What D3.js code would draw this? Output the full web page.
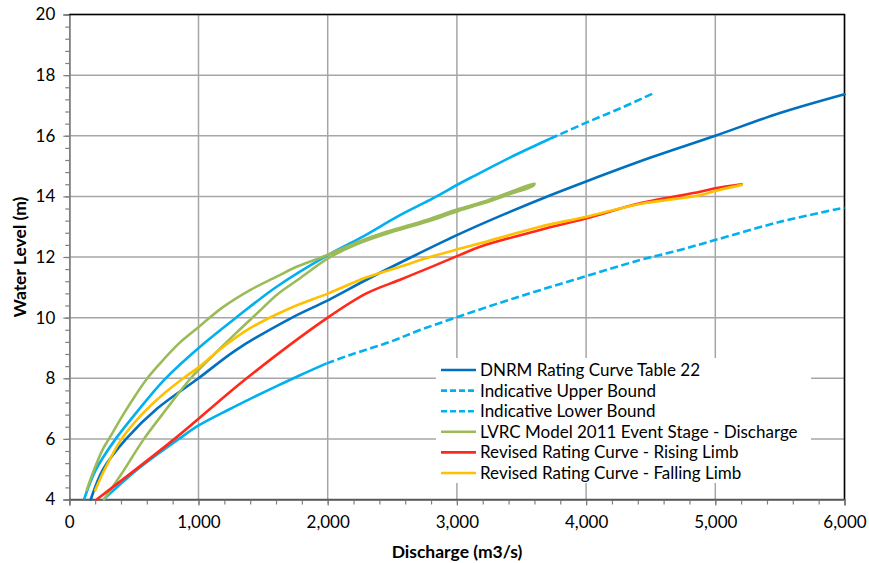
<!DOCTYPE html>
<html><head><meta charset="utf-8">
<script src="https://cdn.jsdelivr.net/npm/d3@7"></script>
<style>body{margin:0;background:#fff}svg{display:block}text{font-family:Lato,"Open Sans",sans-serif}</style>
</head><body><svg id="c" width="869" height="563"></svg>
<script>
// ---- data ----
const xTickValues = [0,1000,2000,3000,4000,5000,6000];
const yTickValues = [4,6,8,10,12,14,16,18,20];
const seriesNames = ["DNRM Rating Curve Table 22","Indicative Upper Bound","Indicative Lower Bound","LVRC Model 2011 Event Stage - Discharge","Revised Rating Curve - Rising Limb","Revised Rating Curve - Falling Limb"];

const dnrmQ = [166,262,440,680,1000,1290,1710,2005,2300,2650,3000,3350,3690,4005,4500,5000,5500,6000];
const dnrmL = [4,5,6,7,8,8.93,9.97,10.58,11.25,12,12.72,13.38,13.98,14.5,15.28,16,16.75,17.37];

const upperQ = [114,204,359,514,733,1012,1321,1605,2005,2250,2560,2817,3011,3127,3411,3721,4005,4262,4520];
const upperL = [4,4.97,6,6.84,7.94,9.04,10.1,11.02,12.07,12.62,13.38,13.94,14.4,14.66,15.28,15.9,16.44,16.9,17.4];

const lowerQ = [265,539,849,1004,1236,1424,1605,1786,1992,2173,2482,2714,3011,3450,3901,4417,4726,4998,5501,6000];
const lowerL = [4,5.03,6,6.45,6.97,7.37,7.74,8.1,8.49,8.77,9.2,9.59,10.03,10.65,11.24,11.9,12.23,12.56,13.16,13.63];

// LVRC loop: rising branch up to the peak, then back down the upper branch
const lvrcQ = [268,423,578,746,940,1100,1288,1468,1605,1786,2005,2224,2456,2766,3011,3204,3400,3591,3600,3450,3204,3011,2766,2456,2224,2005,1734,1605,1399,1184,1004,849,694,604,514,423,307,256,191,135];
const lvrcL = [4.0,4.97,6.0,6.95,8.0,8.7,9.48,10.2,10.75,11.3,11.96,12.42,12.77,13.16,13.52,13.77,14.06,14.35,14.42,14.2,13.82,13.58,13.22,12.83,12.48,12.08,11.63,11.35,10.91,10.33,9.7,9.15,8.45,8.0,7.45,6.84,6.0,5.63,4.97,4.31];

const risingQ = [212,815,1373,2000,2300,2560,2817,3024,3179,3643,4005,4417,4882,5000,5204];
const risingL = [4,6,8,10,10.8,11.25,11.7,12.07,12.34,12.89,13.28,13.77,14.15,14.27,14.4];

const fallingQ = [200,275,405,560,720,883,1013,1166,1399,1708,2005,2302,2560,2817,3011,3179,3643,4005,4417,4882,5000,5204];
const fallingL = [4.3,5.0,6.0,6.8,7.45,8.0,8.4,8.95,9.65,10.31,10.8,11.33,11.68,12.03,12.26,12.45,13.0,13.33,13.75,14.04,14.18,14.38];

// ---- styles ----
const colors = ["#0070C0","#00B0F0","#00B0F0","#9BBB59","#FF2A1A","#FFC000"];
const dashedFrom = {1: 3900, 2: 2000};   // discharge beyond which the bound lines render dashed
const dash = "8,3.5";

const svg = d3.select("#c");
const x = d3.scaleLinear().domain([0,6000]).range([69.3,844.5]);
const y = d3.scaleLinear().domain([4,20]).range([499.5,14.5]);

// gridlines
const g = svg.append("g");
g.selectAll(".vg").data(xTickValues.slice(1)).join("line")
  .attr("x1",d=>x(d)).attr("x2",d=>x(d)).attr("y1",y(4)).attr("y2",y(20))
  .attr("stroke","#A6A6A6").attr("stroke-width",1.5);
g.selectAll(".hg").data(yTickValues.slice(1)).join("line")
  .attr("x1",x(0)).attr("x2",x(6000)).attr("y1",d=>y(d)).attr("y2",d=>y(d))
  .attr("stroke","#A6A6A6").attr("stroke-width",1.5);

// axes
const fmt = d3.format(",");
const xAxis = d3.axisBottom(x).tickValues(xTickValues).tickFormat(fmt).tickSize(6).tickPadding(10);
const xMinor = d3.axisBottom(x).tickValues(d3.range(0,6001,200)).tickFormat("").tickSize(5);
const yAxis = d3.axisLeft(y).tickValues(yTickValues).tickSize(6).tickPadding(8);
const yMinor = d3.axisLeft(y).tickValues(d3.range(4,20.01,0.4)).tickFormat("").tickSize(4);

function styleAxis(sel, col){
  sel.selectAll("path").attr("stroke",col).attr("stroke-width",1.5);
  sel.selectAll("line").attr("stroke",col).attr("stroke-width",1.2);
  sel.selectAll("text").attr("font-size",17).attr("fill","#000").attr("font-family","Lato");
}
svg.append("g").attr("transform",`translate(0,${y(4)})`).call(xMinor).call(s=>styleAxis(s,"#7F7F7F"));
svg.append("g").attr("transform",`translate(0,${y(4)})`).call(xAxis).call(s=>styleAxis(s,"#7F7F7F"));
svg.append("g").attr("transform",`translate(${x(0)},0)`).call(yMinor).call(s=>styleAxis(s,"#7F7F7F"));
svg.append("g").attr("transform",`translate(${x(0)},0)`).call(yAxis).call(s=>styleAxis(s,"#7F7F7F"));

// top, right & bottom border
svg.append("line").attr("x1",x(0)).attr("x2",x(6000)+0.7).attr("y1",y(20)).attr("y2",y(20)).attr("stroke","#000").attr("stroke-width",1.5);
svg.append("line").attr("x1",x(6000)).attr("x2",x(6000)).attr("y1",y(20)).attr("y2",y(4)).attr("stroke","#000").attr("stroke-width",1.5);
svg.append("line").attr("x1",x(0)).attr("x2",x(6000)).attr("y1",y(4)).attr("y2",y(4)).attr("stroke","#595959").attr("stroke-width",1.5);

// series
const series = [
  [dnrmQ,dnrmL],[upperQ,upperL],[lowerQ,lowerL],[lvrcQ,lvrcL],[risingQ,risingL],[fallingQ,fallingL]
];
const line = d3.line().x(d=>x(d[0])).y(d=>y(d[1])).curve(d3.curveCatmullRom.alpha(0.5));
const plot = svg.append("g");
series.forEach(([qs,ls],i)=>{
  const pts = qs.map((q,k)=>[q,ls[k]]);
  const w = 2.6;
  if (dashedFrom[i] !== undefined){
    const t = dashedFrom[i];
    const solid = pts.filter(p=>p[0]<=t);
    const rest = pts.filter(p=>p[0]>=solid[solid.length-1][0]);
    plot.append("path").attr("d",line(solid)).attr("fill","none").attr("stroke",colors[i]).attr("stroke-width",w).attr("stroke-linejoin","round");
    plot.append("path").attr("d",line(rest)).attr("fill","none").attr("stroke",colors[i]).attr("stroke-width",w).attr("stroke-dasharray",dash);
  } else {
    plot.append("path").attr("d",line(pts)).attr("fill","none").attr("stroke",colors[i]).attr("stroke-width",w).attr("stroke-linejoin","round").attr("stroke-linecap","round");
  }
});

// legend
const lg = svg.append("g");
lg.append("rect").attr("x",436).attr("y",358).attr("width",375).attr("height",125).attr("fill","#fff");
seriesNames.forEach((name,i)=>{
  const yy = 370 + i*20.6;
  lg.append("line").attr("x1",441).attr("x2",476).attr("y1",yy).attr("y2",yy)
    .attr("stroke",colors[i]).attr("stroke-width",2.6)
    .attr("stroke-dasharray",(i===1||i===2)?"6,3":null);
  lg.append("text").attr("x",480).attr("y",yy).attr("dy","0.35em").attr("font-size",17).text(name);
});

// titles
svg.append("text").attr("x",457).attr("y",552).attr("dy","0.35em").attr("text-anchor","middle")
  .attr("font-size",17.5).attr("font-weight","bold").text("Discharge (m3/s)");
svg.append("text").attr("transform",`translate(20,257) rotate(-90)`).attr("dy","0.35em").attr("text-anchor","middle")
  .attr("font-size",17.5).attr("font-weight","bold").text("Water Level (m)");
</script></body></html>
